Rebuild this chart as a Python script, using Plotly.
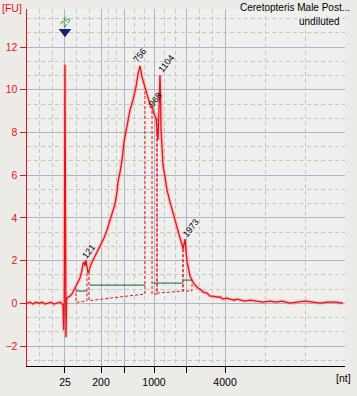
import plotly.graph_objects as go

# ---------------- data ----------------
# migration time (s) and fluorescence (FU)
time_s = [19.0, 19.48, 19.96, 20.44, 20.92, 21.41, 21.89, 22.37, 22.85, 23.33, 23.81, 24.29, 24.61, 24.77,
          24.88, 24.98, 25.09, 25.25, 25.35, 25.42, 25.58, 25.90, 26.22, 26.54, 26.86, 27.18, 27.50, 27.82,
          27.98, 28.14, 28.30, 28.46, 28.62, 28.78, 28.94, 29.10, 29.42, 29.91, 30.23, 30.71, 31.35, 31.83,
          32.31, 32.79, 33.11, 33.43, 33.59, 33.92, 34.24, 34.56, 34.88, 35.20, 35.52, 36.00, 36.48, 36.80,
          37.12, 37.44, 37.76, 37.92, 38.24, 38.57, 38.73, 38.89, 39.05, 39.21, 39.37, 39.53, 39.69, 39.85,
          40.01, 40.17, 40.33, 40.41, 40.49, 40.65, 40.81, 41.13, 41.45, 41.94, 42.42, 42.74, 43.06, 43.22,
          43.54, 43.86, 44.02, 44.34, 44.50, 44.66, 44.82, 45.14, 45.62, 45.95, 46.43, 46.75, 47.23, 47.87,
          48.35, 48.83, 49.47, 49.95, 50.44, 51.08, 51.56, 52.20, 52.68, 53.32, 53.97, 54.77, 55.89, 56.85,
          57.97, 58.93, 59.90, 61.18, 62.30, 63.59, 64.87, 65.99, 67.12, 68.40, 69.68]
fu = [0.01, 0.06, -0.03, 0.06, 0.01, 0.06, -0.03, 0.01, 0.06, -0.03, 0.01, 0.06, -0.03, -0.08,
      -1.25, 0.15, 11.17, -1.58, 0.15, 0.25, 0.30, 0.34, 0.44, 0.62, 0.86, 1.04, 1.19, 1.56,
      1.89, 1.93, 1.75, 2.03, 1.79, 1.42, 1.51, 1.70, 1.93, 2.22, 2.40, 2.68, 3.06, 3.43,
      3.85, 4.28, 4.65, 5.21, 5.68, 6.15, 6.71, 7.56, 8.07, 8.59, 9.05, 9.52, 10.13, 10.74,
      11.12, 10.60, 10.27, 10.08, 9.80, 9.43, 9.29, 9.15, 9.24, 8.96, 8.87, 8.77, 8.68, 8.12,
      7.65, 9.05, 10.69, 9.76, 8.12, 7.37, 6.48, 5.92, 5.31, 4.74, 4.23, 3.90, 3.57, 3.29,
      3.06, 2.78, 2.54, 3.01, 2.40, 1.93, 1.75, 1.28, 1.00, 0.86, 0.72, 0.67, 0.53, 0.48,
      0.34, 0.34, 0.30, 0.30, 0.20, 0.25, 0.20, 0.15, 0.20, 0.15, 0.11, 0.15, 0.11, 0.06,
      0.11, 0.06, 0.11, 0.01, 0.06, 0.11, 0.06, 0.01, 0.06, 0.06, 0.01]

# ladder (size axis)
ladder_nt = [25, 200, 500, 1000, 2000, 4000]
ladder_time = [25.09, 30.87, 34.56, 39.37, 44.50, 50.76]
ladder_text = ["25", "200", "", "1000", "", "4000"]
x_edges = [19.0, 70.0]

# called peaks
peak_nt = [121, 756, 968, 1104, 1973]
peak_time = [28.46, 37.12, 39.05, 40.33, 44.34]
peak_fu = [2.03, 11.12, 9.24, 10.69, 3.01]

# lower marker
marker_nt = 25
marker_time = 25.09
marker_fu = 12.72

# peak windows (dashed outlines): start/end time, top and baseline values
win_start = [26.86, 28.94, 39.05, 39.85, 44.02]
win_end = [28.62, 37.92, 39.85, 44.02, 45.46]
win_top_start = [0.72, 1.47, 9.24, 8.68, 2.54]
win_top_end = [1.47, 10.08, 8.68, 2.54, 1.09]
win_base_start = [0.04, 0.13, 0.44, 0.48, 0.58]
win_base_end = [0.13, 0.44, 0.44, 0.58, 0.58]

# region bars (green)
reg_start = [26.86, 29.10, 39.21, 44.18]
reg_end = [28.62, 37.92, 44.02, 45.46]
reg_level = [0.58, 0.86, 0.95, 1.09]

sample_name = "Ceretopteris Male Post..."
sample_note = "undiluted"

# ---------------- styles ----------------
RED = "#E3131B"
GLOW = "rgba(255,110,110,0.28)"
GREEN = "#2F7B5E"
NAVY = "#1E1E6E"
MAJ = "#AEB5C3"
MINOR = "#C6C6C6"
FONT = "Liberation Sans"
label_shift = [(3, 9), (0, 11), (3, 6), (6, 11), (6, 11)]

fig = go.Figure()

# dashed peak windows
wx, wy = [], []
for s, e, ts, te, bs, be in zip(win_start, win_end, win_top_start, win_top_end, win_base_start, win_base_end):
    wx += [s, s, e, e, None]
    wy += [ts, bs, be, te, None]
fig.add_trace(go.Scatter(x=wx, y=wy, mode="lines", line=dict(color=RED, width=1, dash="3px,2px"),
                         hoverinfo="skip", showlegend=False))

# green region lines
gx, gy = [], []
for s, e, lv in zip(reg_start, reg_end, reg_level):
    gx += [s, e, None]
    gy += [lv, lv, None]
fig.add_trace(go.Scatter(x=gx, y=gy, mode="lines", line=dict(color=GREEN, width=1.2),
                         hoverinfo="skip", showlegend=False))

# glow + signal
fig.add_trace(go.Scatter(x=time_s, y=fu, mode="lines", line=dict(color=GLOW, width=4),
                         hoverinfo="skip", showlegend=False))
fig.add_trace(go.Scatter(x=time_s, y=fu, mode="lines", line=dict(color=RED, width=1.3),
                         showlegend=False))

# marker triangle
fig.add_trace(go.Scatter(x=[marker_time], y=[marker_fu], mode="markers",
                         marker=dict(symbol="triangle-down", size=11, color=NAVY, line=dict(width=0)),
                         showlegend=False))

annotations = []
for nt, t, v, (dx, dy) in zip(peak_nt, peak_time, peak_fu, label_shift):
    annotations.append(dict(x=t, y=v, text=str(nt), showarrow=False, textangle=-52,
                            xanchor="center", yanchor="middle", xshift=dx, yshift=dy,
                            font=dict(family=FONT, size=9, color="black")))
annotations.append(dict(x=marker_time, y=marker_fu, text=str(marker_nt), showarrow=False, textangle=-52,
                        xanchor="center", yanchor="middle", xshift=0, yshift=10,
                        font=dict(family=FONT, size=9, color="#2E8B2E")))
annotations.append(dict(xref="paper", yref="paper", x=-27 / 318, y=1 + 9 / 357, xanchor="left", yanchor="top",
                        text="[FU]", showarrow=False, font=dict(family=FONT, size=10.5, color=RED)))
annotations.append(dict(xref="paper", yref="paper", x=(353 - 27) / 318, y=-(370 - 366) / 357,
                        xanchor="right", yanchor="top", text="[nt]", showarrow=False,
                        font=dict(family=FONT, size=10.5, color="black")))
annotations.append(dict(xref="paper", yref="paper", x=(352 - 27) / 318, y=1 + 9 / 357, xanchor="right",
                        yanchor="top", text=sample_name, showarrow=False,
                        font=dict(family=FONT, size=10, color="black")))
annotations.append(dict(xref="paper", yref="paper", x=(342 - 27) / 318, y=1 + (9 - 14) / 357, xanchor="right",
                        yanchor="top", text=sample_note, showarrow=False,
                        font=dict(family=FONT, size=10, color="black")))

# minor grid: thirds between consecutive major positions
majors = [x_edges[0]] + ladder_time + [x_edges[1]]
minor_x = []
for a, b in zip(majors[:-1], majors[1:]):
    minor_x += [a + (b - a) / 3, a + 2 * (b - a) / 3]

fig.update_layout(
    width=357, height=396, autosize=False,
    margin=dict(l=27, r=12, t=9, b=30, autoexpand=False),
    paper_bgcolor="#ECEBE8", plot_bgcolor="#EFEFED",
    annotations=annotations,
    hovermode=False,
    xaxis=dict(range=x_edges, tickmode="array", tickvals=ladder_time, ticktext=ladder_text,
               automargin=False,
               showgrid=True, gridcolor=MAJ, gridwidth=1, zeroline=False,
               showline=True, linecolor="black", linewidth=1.3,
               ticks="outside", ticklen=6, tickcolor="black", tickwidth=1,
               tickfont=dict(family=FONT, size=10.5, color="black"),
               minor=dict(tickmode="array", tickvals=minor_x, showgrid=True, gridcolor=MINOR,
                          griddash="4px,3px", ticks="")),
    yaxis=dict(range=[-2.93, 13.78], tickmode="linear", tick0=0, dtick=2,
               automargin=False,
               showgrid=True, gridcolor=MAJ, gridwidth=1, zeroline=False,
               showline=True, linecolor=RED, linewidth=1.5,
               ticks="outside", ticklen=6, tickcolor=RED, tickwidth=1,
               tickfont=dict(family=FONT, size=10.5, color=RED),
               minor=dict(tick0=0, dtick=2 / 3, showgrid=True, gridcolor=MINOR,
                          griddash="4px,3px", ticks="")),
)

fig.write_html("out.html", config={"displayModeBar": False, "staticPlot": True},
               post_script="document.body.style.margin='0';document.body.style.overflow='hidden';")
